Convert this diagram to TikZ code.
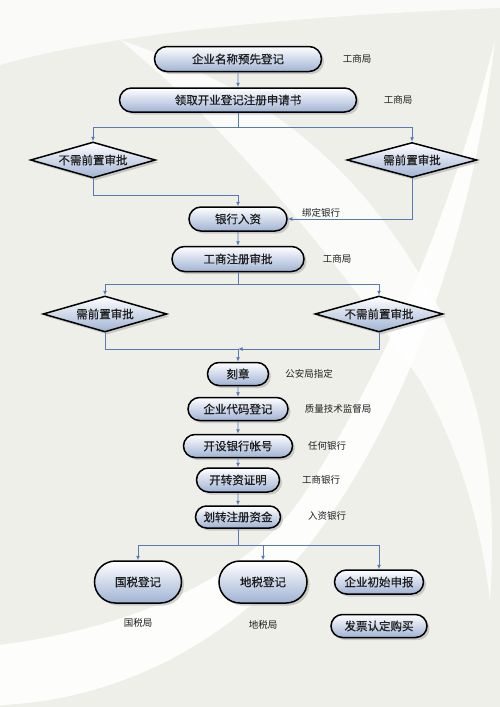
\documentclass[tikz,border=0pt]{standalone}
\usepackage{fontspec}
\setmainfont{Noto Sans CJK SC}
\newfontfamily\nodefont[FakeBold=0.6]{Noto Sans CJK SC}
\usetikzlibrary{shapes.misc,shapes.geometric,shadows,arrows.meta}
\definecolor{bgcol}{RGB}{239,239,233}
\definecolor{nodeblue}{RGB}{160,179,212}
\definecolor{linecol}{RGB}{88,121,180}
\definecolor{txtcol}{RGB}{30,30,30}
\begin{document}
\begin{tikzpicture}[x=1pt,y=-1pt,
  pill/.style={rounded rectangle, draw=black, line width=1.5pt, top color=white, bottom color=nodeblue,
    drop shadow={shadow xshift=2.5pt,shadow yshift=-2.5pt,opacity=0.35},
    font=\nodefont\fontsize{11.5}{12}\selectfont, text=txtcol, inner sep=0pt},
  dia/.style={diamond, draw=black, line width=1.5pt, top color=white, bottom color=nodeblue,
    drop shadow={shadow xshift=2.5pt,shadow yshift=-2.5pt,opacity=0.35},
    aspect=3.5, inner sep=0pt, font=\nodefont\fontsize{11.5}{12}\selectfont, text=txtcol},
  lab/.style={font=\fontsize{9.5}{10}\selectfont, text=txtcol, inner sep=0pt},
  arr/.style={draw=linecol, line width=0.9pt, -{Latex[length=4.5pt,width=4pt]}},
]
\useasboundingbox (0,0) rectangle (500,707);
% background
\fill[bgcol] (0,0) rectangle (500,707);
\fill[white,opacity=0.75] (0,0) -- (500,0) -- (500,8) .. controls (300,15) and (100,35) .. (0,65) -- cycle;
\fill[white,opacity=0.9] (0,645) .. controls (150,625) and (250,570) .. (300,500)
   .. controls (380,380) and (450,220) .. (495,40)
   .. controls (470,250) and (400,420) .. (320,530)
   .. controls (240,640) and (120,700) .. (0,705) -- cycle;
\fill[white,opacity=0.8] (120,40) .. controls (220,120) and (330,250) .. (420,380)
   .. controls (460,450) and (480,520) .. (490,600)
   .. controls (500,450) and (470,380) .. (440,310)
   .. controls (380,200) and (300,100) .. (120,40) -- cycle;

% nodes
\node[pill, minimum width=167pt, minimum height=25pt] (n1) at (238,59) {企业名称预先登记};
\node[pill, minimum width=237pt, minimum height=24pt] (n2) at (238,100) {领取开业登记注册申请书};
\node[dia, minimum width=125pt, minimum height=36pt] (d1) at (93,160) {不需前置审批};
\node[dia, minimum width=130pt, minimum height=35pt] (d2) at (412,160) {需前置审批};
\node[pill, minimum width=98pt, minimum height=24pt] (n3) at (238,219) {银行入资};
\node[pill, minimum width=132pt, minimum height=25pt] (n4) at (238,259) {工商注册审批};
\node[dia, minimum width=124pt, minimum height=36pt] (d3) at (105,314) {需前置审批};
\node[dia, minimum width=128pt, minimum height=36pt] (d4) at (379,314) {不需前置审批};
\node[pill, minimum width=61pt, minimum height=23pt] (n5) at (238,374) {刻章};
\node[pill, minimum width=100pt, minimum height=23pt] (n6) at (238,409) {企业代码登记};
\node[pill, minimum width=109pt, minimum height=23pt] (n7) at (238,446) {开设银行帐号};
\node[pill, minimum width=83pt, minimum height=24pt] (n8) at (238,480) {开转资证明};
\node[pill, minimum width=85pt, minimum height=22pt] (n9) at (238,517) {划转注册资金};
\node[pill, minimum width=87pt, minimum height=42pt] (n10) at (138,582) {国税登记};
\node[pill, minimum width=88pt, minimum height=42pt] (n11) at (263,582) {地税登记};
\node[pill, minimum width=89pt, minimum height=24pt] (n12) at (379,582) {企业初始申报};
\node[pill, minimum width=96pt, minimum height=23pt] (n13) at (379,626) {发票认定购买};

% labels
\node[lab] (l1) at (357,59) {工商局};
\node[lab] (l2) at (398,100) {工商局};
\node[lab] (l3) at (321,213) {绑定银行};
\node[lab] (l4) at (337,259) {工商局};
\node[lab] (l5) at (309,374) {公安局指定};
\node[lab] (l6) at (338,409) {质量技术监督局};
\node[lab] (l7) at (327,446) {任何银行};
\node[lab] (l8) at (321,480) {工商银行};
\node[lab] (l9) at (327,516) {入资银行};
\node[lab] (l10) at (138,623) {国税局};
\node[lab] (l11) at (263,625) {地税局};

% junction coordinates
\coordinate (b1) at (238,127);
\coordinate (m1) at (238,195);
\coordinate (b2) at (238,284);
\coordinate (m2) at (238,349);
\coordinate (b3) at (238,545);

% connectors
\draw[arr] (n1) -- (n2);
\draw[arr] (n2.south) -- (b1) -| (d1.north);
\draw[arr] (b1) -| (d2.north);
\draw[arr] (d1.south) |- (m1) -- (n3.north);
\draw[arr] (d2.south) |- (n3.east);
\draw[arr] (n3) -- (n4);
\draw[arr] (n4.south) -- (b2) -| (d3.north);
\draw[arr] (b2) -| (d4.north);
\draw[arr] (d3.south) |- (m2) -- (n5.north);
\draw[arr] (d4.south) |- (m2);
\draw[arr] (n5) -- (n6);
\draw[arr] (n6) -- (n7);
\draw[arr] (n7) -- (n8);
\draw[arr] (n8) -- (n9);
\draw[arr] (n9.south) -- (b3) -| (n10.north);
\draw[arr] (b3) -| (n11.north);
\draw[arr] (b3) -| (n12.north);
\end{tikzpicture}
\end{document}
